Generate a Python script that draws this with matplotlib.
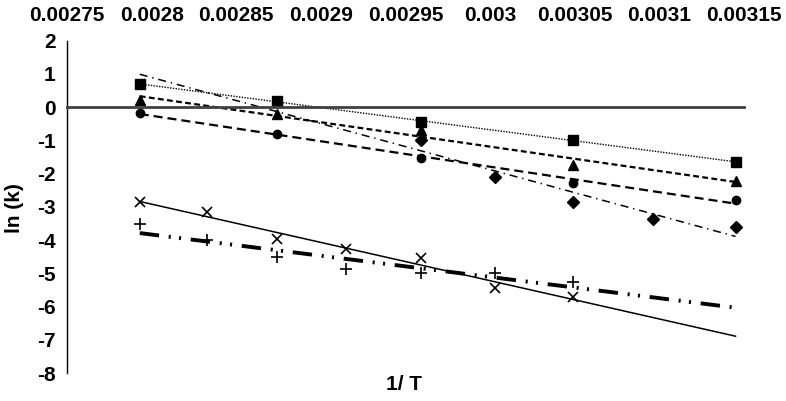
import numpy as np
import matplotlib
matplotlib.use("Agg")
import matplotlib.pyplot as plt

plt.rcParams["font.family"] = ["Liberation Sans", "DejaVu Sans"]
plt.rcParams["font.weight"] = "bold"
plt.rcParams["lines.scale_dashes"] = False
plt.rcParams["axes.unicode_minus"] = False

# 1/T values (K^-1) and ln(k) readings
x_sq = [0.002793, 0.002874, 0.002959, 0.003049, 0.003145]
y_sq = [0.69, 0.18, -0.45, -0.99, -1.65]

x_tri = [0.002793, 0.002874, 0.002959, 0.003049, 0.003145]
y_tri = [0.22, -0.21, -0.68, -1.74, -2.23]

x_cir = [0.002793, 0.002874, 0.002959, 0.003049, 0.003145]
y_cir = [-0.17, -0.81, -1.52, -2.30, -2.80]

x_dia = [0.002959, 0.003003, 0.003049, 0.003096, 0.003145]
y_dia = [-0.98, -2.12, -2.85, -3.36, -3.60]

x_x = [0.002793, 0.002833, 0.002874, 0.002915, 0.002959, 0.003003, 0.003049]
y_x = [-2.85, -3.17, -3.96, -4.28, -4.53, -5.45, -5.72]

x_pl = [0.002793, 0.002833, 0.002874, 0.002915, 0.002959, 0.003003, 0.003049]
y_pl = [-3.52, -4.00, -4.50, -4.87, -4.98, -5.00, -5.25]

xticks = [0.00275, 0.0028, 0.00285, 0.0029, 0.00295, 0.003, 0.00305, 0.0031, 0.00315]
xtick_labels = ["0.00275", "0.0028", "0.00285", "0.0029", "0.00295", "0.003",
                "0.00305", "0.0031", "0.00315"]
yticks = list(range(-8, 3))

series = [
    (x_sq, y_sq, dict(marker="s", ms=6.5), dict(lw=1.0, ls=(0, (1.0, 1.0)))),
    (x_tri, y_tri, dict(marker="^", ms=7), dict(lw=1.6, ls=(0, (4.2, 2.4)))),
    (x_cir, y_cir, dict(marker="o", ms=6), dict(lw=1.6, ls=(0, (6.5, 3.6)))),
    (x_dia, y_dia, dict(marker="D", ms=6), dict(lw=1.1, ls=(0, (5.8, 3.5, 1.0, 3.5)))),
    (x_x, y_x, dict(marker="x", ms=6.5, mew=1.2), dict(lw=1.1, ls="-")),
    (x_pl, y_pl, dict(marker="+", ms=8, mew=1.2),
     dict(lw=2.8, ls=(0, (14, 7, 1.5, 6, 1.5, 7)))),
]

all_x = np.concatenate([s[0] for s in series])
span = np.array([all_x.min(), all_x.max()])

fig = plt.figure(figsize=(7.86, 4.01), dpi=100)
ax = fig.add_axes([0.0852, 0.0698, 0.8614, 0.8292])

for xs, ys, mk, ln in series:
    m, b = np.polyfit(xs, ys, 1)
    ax.plot(span, m * span + b, color="black", **ln)
    ax.plot(xs, ys, ls="none", color="black", **mk)

ax.set_xlim(0.00275, 0.00315)
ax.set_ylim(-8, 2)
ax.xaxis.tick_top()
ax.set_xticks(xticks)
ax.set_xticklabels(xtick_labels)
ax.set_yticks(yticks)
ax.tick_params(axis="both", length=0, labelsize=15)
ax.tick_params(axis="x", pad=11)
ax.tick_params(axis="y", pad=8)

ax.spines["top"].set_visible(False)
ax.spines["right"].set_visible(False)
ax.spines["bottom"].set_position(("data", 0))
ax.spines["bottom"].set_color("#404040")
ax.spines["bottom"].set_linewidth(2)
ax.spines["left"].set_linewidth(1)
ax.spines["left"].set_color("black")

fig.text(404 / 786, 1 - 385 / 401, "1/ T", ha="center", va="center",
         fontsize=15, fontweight="bold")
fig.text(15 / 786, 1 - 208 / 401, "ln (k)", ha="center", va="center",
         rotation=90, fontsize=15, fontweight="bold")

fig.savefig("out.png", dpi=100)
